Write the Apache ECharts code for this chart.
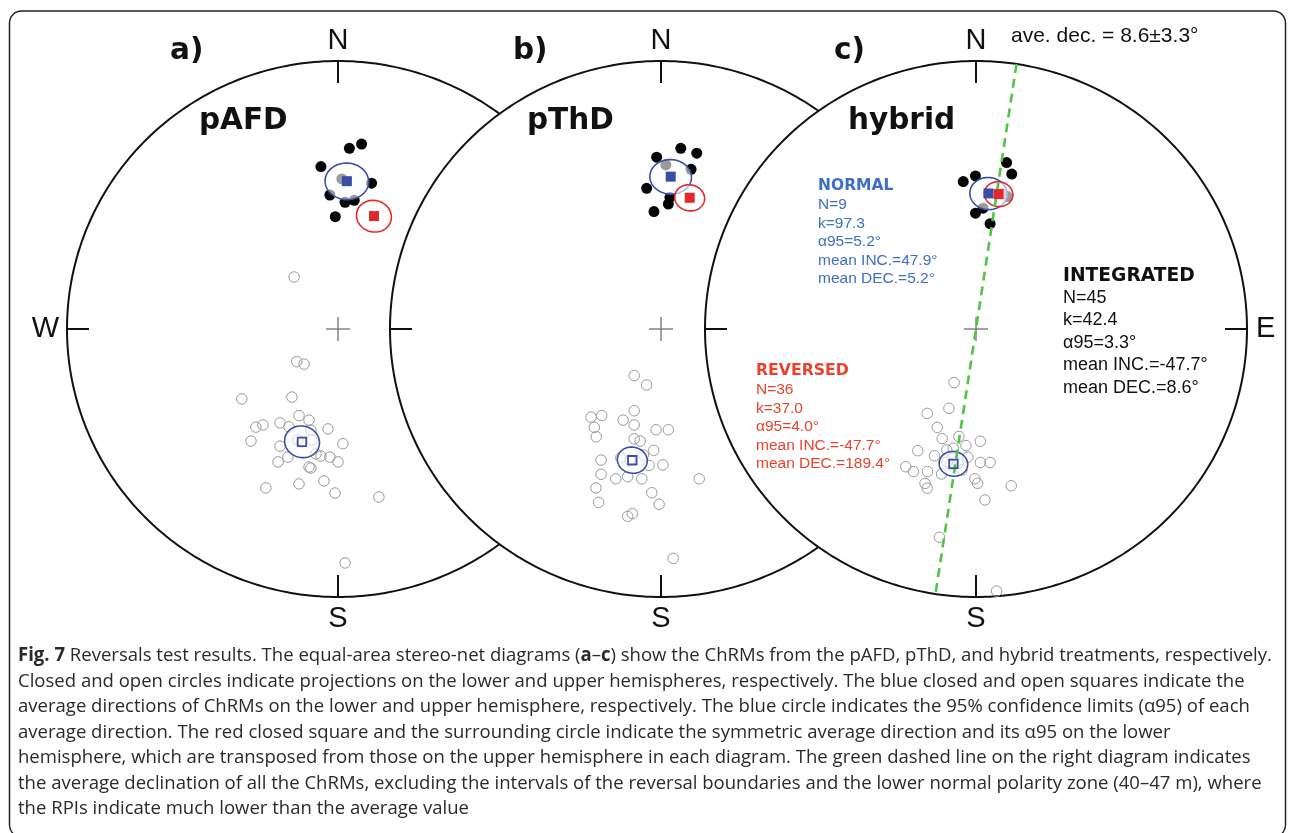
<!DOCTYPE html>
<html><head><meta charset="utf-8">
<script src="https://cdn.jsdelivr.net/npm/echarts@6/dist/echarts.min.js"></script>
<style>html,body{margin:0;padding:0;background:#fff}#c{width:1290px;height:833px}</style>
</head><body><div id="c"></div>
<script>
// ================= DATA =================
const panelLetters = ['a)', 'b)', 'c)'];
const panelNames = ['pAFD', 'pThD', 'hybrid'];
const cardinal = ['N', 'S', 'W', 'E'];

// Equal-area projected positions [east, north] on a unit net (primitive radius = 1)
// closed circles = lower hemisphere ChRMs, open circles = upper hemisphere ChRMs
const closedA = [[0.087,0.690],[0.042,0.674],[-0.063,0.606],[0.014,0.560],[0.124,0.544],[-0.030,0.500],[0.026,0.473],[0.060,0.480],[-0.010,0.419]];
const openA = [[-0.152,-0.122],[-0.125,-0.131],[-0.355,-0.261],[-0.170,-0.254],[-0.144,-0.323],[-0.107,-0.340],[-0.214,-0.350],[-0.277,-0.358],[-0.303,-0.366],[-0.181,-0.365],[-0.100,-0.377],[-0.037,-0.373],[-0.321,-0.418],[-0.214,-0.437],[-0.148,-0.414],[-0.096,-0.414],[0.018,-0.428],[-0.185,-0.478],[-0.081,-0.466],[-0.063,-0.474],[-0.030,-0.478],[-0.221,-0.496],[0.000,-0.496],[-0.107,-0.515],[-0.100,-0.519],[-0.266,-0.593],[-0.144,-0.578],[-0.052,-0.567],[-0.011,-0.612],[0.151,-0.627],[0.026,-0.873],[-0.133,-0.422],[-0.162,0.194]];

const closedB = [[0.073,0.674],[0.132,0.656],[-0.016,0.641],[0.018,0.612],[0.111,0.596],[-0.053,0.525],[0.033,0.491],[0.027,0.466],[-0.026,0.438]];
const openB = [[-0.099,-0.174],[-0.053,-0.209],[-0.099,-0.305],[-0.258,-0.329],[-0.219,-0.323],[-0.140,-0.340],[-0.246,-0.367],[-0.099,-0.358],[-0.018,-0.376],[0.027,-0.376],[-0.239,-0.402],[-0.099,-0.410],[-0.077,-0.418],[-0.027,-0.453],[-0.065,-0.470],[-0.148,-0.480],[-0.221,-0.489],[-0.044,-0.509],[0.007,-0.507],[-0.221,-0.542],[-0.167,-0.559],[-0.123,-0.551],[-0.071,-0.559],[-0.240,-0.593],[-0.034,-0.611],[-0.007,-0.654],[-0.230,-0.647],[-0.106,-0.689],[-0.123,-0.699],[0.141,-0.559],[0.045,-0.856],[-0.114,-0.489]];

const closedC = [[0.113,0.621],[0.132,0.578],[-0.047,0.550],[-0.002,0.571],[0.116,0.494],[-0.002,0.432],[0.026,0.451],[0.052,0.393],[0.095,0.506]];
const openC = [[-0.081,-0.200],[-0.100,-0.296],[-0.180,-0.315],[-0.143,-0.367],[-0.125,-0.409],[-0.063,-0.401],[-0.037,-0.435],[0.016,-0.419],[-0.215,-0.454],[-0.108,-0.451],[-0.153,-0.473],[-0.030,-0.478],[-0.259,-0.514],[-0.231,-0.532],[-0.179,-0.532],[0.016,-0.498],[0.052,-0.498],[-0.004,-0.559],[0.006,-0.576],[-0.127,-0.541],[-0.188,-0.576],[-0.180,-0.594],[0.130,-0.585],[0.033,-0.638],[-0.135,-0.777],[0.076,-0.978],[-0.066,-0.501],[-0.084,-0.445],[-0.107,-0.496],[-0.096,-0.507],[-0.052,-0.526]];

// Mean directions [declination, inclination, alpha95] (degrees)
const normalMeans   = [[3.4, 44.0, 6.0], [3.6, 42.5, 5.7], [5.2, 47.9, 5.2]];
const reversedMeans = [[197.5, -53.6, 5.0], [192.2, -48.5, 4.2], [189.4, -47.7, 4.0]];
const aveDec = 8.6;

const aveDecLabel = 'ave. dec. = 8.6±3.3°';
const normalStats = ['NORMAL', 'N=9', 'k=97.3', 'α95=5.2°', 'mean INC.=47.9°', 'mean DEC.=5.2°'];
const reversedStats = ['REVERSED', 'N=36', 'k=37.0', 'α95=4.0°', 'mean INC.=-47.7°', 'mean DEC.=189.4°'];
const integratedStats = ['INTEGRATED', 'N=45', 'k=42.4', 'α95=3.3°', 'mean INC.=-47.7°', 'mean DEC.=8.6°'];

const captionLines = [
  '{b|Fig. 7} Reversals test results. The equal-area stereo-net diagrams ({b|a}–{b|c}) show the ChRMs from the pAFD, pThD, and hybrid treatments, respectively.',
  'Closed and open circles indicate projections on the lower and upper hemispheres, respectively. The blue closed and open squares indicate the',
  'average directions of ChRMs on the lower and upper hemisphere, respectively. The blue circle indicates the 95% confidence limits (α95) of each',
  'average direction. The red closed square and the surrounding circle indicate the symmetric average direction and its α95 on the lower',
  'hemisphere, which are transposed from those on the upper hemisphere in each diagram. The green dashed line on the right diagram indicates',
  'the average declination of all the ChRMs, excluding the intervals of the reversal boundaries and the lower normal polarity zone (40–47 m), where',
  'the RPIs indicate much lower than the average value'
];

// ================= HELPERS =================
const D2R = Math.PI / 180;
function dirVec(dec, inc) {
  const d = dec * D2R, i = inc * D2R;
  return [Math.cos(i) * Math.cos(d), Math.cos(i) * Math.sin(d), Math.sin(i)]; // north, east, down
}
function projVec(v) {
  const h = Math.hypot(v[0], v[1]);
  const r = Math.sqrt(Math.max(0, 1 - Math.abs(v[2])));
  if (h < 1e-12) return [0, 0];
  return [r * v[1] / h, r * v[0] / h];
}
function proj(dec, inc) { return projVec(dirVec(dec, inc)); }
function cross(a, b) { return [a[1]*b[2]-a[2]*b[1], a[2]*b[0]-a[0]*b[2], a[0]*b[1]-a[1]*b[0]]; }
function norm(a) { const l = Math.hypot(a[0], a[1], a[2]); return [a[0]/l, a[1]/l, a[2]/l]; }
function smallCircle(dec, inc, a95) {
  const m = dirVec(dec, inc);
  const u = norm(cross(m, [0, 0, 1]));
  const v = cross(m, u);
  const ca = Math.cos(a95 * D2R), sa = Math.sin(a95 * D2R);
  const out = [];
  for (let k = 0; k <= 120; k++) {
    const f = k / 120 * 2 * Math.PI;
    const p = [0, 1, 2].map(j => ca * m[j] + sa * (Math.cos(f) * u[j] + Math.sin(f) * v[j]));
    out.push(projVec(p));
  }
  return out;
}
const antipode = m => [m[0] + 180, -m[1], m[2]];

// ================= LAYOUT =================
const RX = 271, RY = 268, CY = 329;
const centersX = [338, 661, 976];
const closedSets = [closedA, closedB, closedC];
const openSets = [openA, openB, openC];

const BLUE = '#3a4ea8', RED = '#e3282c', GREEN = '#4fc546';
const SANS = '"Liberation Sans", Arial, sans-serif';
const HEAVY = '"DejaVu Sans", sans-serif';

function netRender(p) {
  return function (params, api) {
    const pts = [];
    for (let k = 0; k <= 360; k++) { const t = k * D2R; pts.push(api.coord([Math.sin(t), Math.cos(t)])); }
    const c = api.coord([0, 0]), n = api.coord([0, 1]), s = api.coord([0, -1]),
          w = api.coord([-1, 0]), e = api.coord([1, 0]);
    const T = 22, H = 12;
    const ln = (x1, y1, x2, y2, col, lw) => ({type: 'line', shape: {x1, y1, x2, y2}, style: {stroke: col, lineWidth: lw}});
    const lab = (t, x, y, al) => ({type: 'text', x, y, style: {text: t, align: al, verticalAlign: 'middle', fontSize: 29, fontFamily: SANS, fill: '#111'}});
    const ch = [
      {type: 'polygon', shape: {points: pts}, style: {fill: '#fff', stroke: '#111', lineWidth: 2}},
      ln(n[0], n[1], n[0], n[1] + T, '#111', 2),
      ln(s[0], s[1], s[0], s[1] - T, '#111', 2),
      ln(w[0], w[1], w[0] + T, w[1], '#111', 2),
      ln(e[0], e[1], e[0] - T, e[1], '#111', 2),
      ln(c[0] - H, c[1], c[0] + H, c[1], '#666', 1.2),
      ln(c[0], c[1] - H, c[0], c[1] + H, '#666', 1.2),
      lab(cardinal[0], n[0], n[1] - 20.5, 'center'),
      lab(cardinal[1], s[0], s[1] + 22, 'center')
    ];
    if (p === 0) ch.push(lab(cardinal[2], w[0] - 8, w[1], 'right'));
    if (p === 2) ch.push(lab(cardinal[3], e[0] + 9, e[1], 'left'));
    return {type: 'group', children: ch};
  };
}

function ellipseRender(params, api) {
  const pts = smallCircle(api.value(0), api.value(1), api.value(2)).map(q => api.coord(q));
  const col = api.value(3) === 1 ? RED : BLUE;
  return {type: 'polygon', shape: {points: pts}, style: {fill: 'rgba(255,255,255,0.6)', stroke: col, lineWidth: 1.6}};
}

const grids = [], xAxes = [], yAxes = [], series = [];
centersX.forEach((cx, p) => {
  grids.push({left: cx - RX, top: CY - RY, width: 2 * RX, height: 2 * RY});
  xAxes.push({type: 'value', gridIndex: p, min: -1, max: 1, show: false});
  yAxes.push({type: 'value', gridIndex: p, min: -1, max: 1, show: false});
  const zb = p * 10 + 1;
  const ax = {xAxisIndex: p, yAxisIndex: p};
  series.push(Object.assign({type: 'custom', z: zb, data: [[0, 0]], renderItem: netRender(p), silent: true}, ax));
  series.push(Object.assign({type: 'scatter', z: zb + 1, symbol: 'circle', symbolSize: 10.5, data: openSets[p],
    itemStyle: {color: 'rgba(255,255,255,0)', borderColor: '#9a9a9a', borderWidth: 1, opacity: 1}}, ax));
  series.push(Object.assign({type: 'scatter', z: zb + 2, symbol: 'circle', symbolSize: 11, data: closedSets[p],
    itemStyle: {color: '#050505', opacity: 1}}, ax));
  const ell = [normalMeans[p].concat([0]), reversedMeans[p].concat([0]), antipode(reversedMeans[p]).concat([1])];
  series.push(Object.assign({type: 'custom', z: zb + 3, data: ell, renderItem: ellipseRender, silent: true,
    encode: {x: 0, y: 1}}, ax));
  if (p === 2) {
    series.push(Object.assign({type: 'line', z: zb + 4, symbol: 'none', silent: true,
      data: [proj(aveDec, 0), proj(aveDec + 180, 0)],
      lineStyle: {color: GREEN, width: 2.6, type: [9, 6]}}, ax));
  }
  series.push(Object.assign({type: 'scatter', z: zb + 5, symbol: 'rect', symbolSize: 10,
    data: [proj(normalMeans[p][0], normalMeans[p][1])], itemStyle: {color: BLUE, opacity: 1}}, ax));
  series.push(Object.assign({type: 'scatter', z: zb + 5, symbol: 'rect', symbolSize: 8.5,
    data: [proj(reversedMeans[p][0], reversedMeans[p][1])],
    itemStyle: {color: 'rgba(255,255,255,0)', borderColor: BLUE, borderWidth: 1.8, opacity: 1}}, ax));
  const am = antipode(reversedMeans[p]);
  series.push(Object.assign({type: 'scatter', z: zb + 6, symbol: 'rect', symbolSize: 10,
    data: [proj(am[0], am[1])], itemStyle: {color: RED, opacity: 1}}, ax));
});

// ================= TEXT / GRAPHIC =================
const g = [];
g.push({type: 'rect', z: 0, shape: {x: 9.5, y: 11, width: 1276, height: 826, r: 12},
  style: {fill: 'none', stroke: '#222', lineWidth: 1.5}, silent: true});
const txt = (t, x, y, size, bold, family, fill) => ({type: 'text', z: 100, x, y, silent: true,
  style: {text: t, fontSize: size, fontWeight: bold ? 'bold' : 'normal', fontFamily: family, fill, align: 'left', verticalAlign: 'middle'}});
const letterX = [170, 513, 834], nameX = [199, 527, 848];
panelLetters.forEach((t, i) => g.push(txt(t, letterX[i], 51.5, 29.5, true, HEAVY, '#111')));
panelNames.forEach((t, i) => g.push(txt(t, nameX[i], 121.5, 29.5, true, HEAVY, '#111')));
g.push(txt(aveDecLabel, 1011, 36, 21, false, SANS, '#111'));

function block(lines, x, y0, dy0, dy, hs, bs, col) {
  lines.forEach((t, k) => {
    const y = k === 0 ? y0 : y0 + dy0 + (k - 1) * dy;
    g.push(k === 0 ? txt(t, x, y, hs, true, HEAVY, col) : txt(t, x, y, bs, false, SANS, col));
  });
}
block(normalStats, 818, 186.3, 18.5, 18.5, 15.5, 15.5, '#3d6fc6');
block(reversedStats, 756, 371.3, 18.5, 18.5, 15.7, 15.5, '#e8432e');
block(integratedStats, 1063, 276.2, 21.5, 22.6, 18.7, 18, '#111');

// caption
const capFont = '"Open Sans", sans-serif';
const capSize = 19;
const meas = document.createElement('canvas').getContext('2d');
meas.font = capSize + 'px ' + capFont;
const line1Plain = captionLines[0].replace(/\{b\|([^}]*)\}/g, '$1');
const sx = 1250 / meas.measureText(line1Plain).width;
captionLines.forEach((t, k) => {
  g.push({type: 'text', z: 100, x: 18, y: 656 + k * 25.5, scaleX: sx, silent: true,
    style: {text: t, fontSize: capSize, fontFamily: capFont, fill: '#2a2a2a', align: 'left', verticalAlign: 'middle',
      rich: {b: {fontWeight: 'bold', fontSize: capSize, fontFamily: capFont, fill: '#2a2a2a'}}}});
});

const chart = echarts.init(document.getElementById('c'), null, {renderer: 'canvas'});
chart.setOption({
  animation: false,
  backgroundColor: '#fff',
  grid: grids, xAxis: xAxes, yAxis: yAxes, series: series, graphic: g
});
</script></body></html>
